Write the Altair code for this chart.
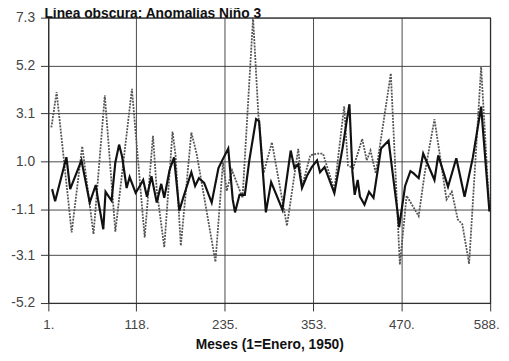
import altair as alt
import pandas as pd

# Serie oscura (Anomalías Niño 3)
nino3_mes = [6, 10, 25, 30, 45, 56, 64, 67, 74, 77, 85, 90, 95, 99, 105, 109, 117, 121, 127, 132,
             138, 145, 151, 155, 162, 168, 175, 181, 191, 196, 201, 208, 218, 227, 232, 240, 246, 249,
             255, 262, 268, 277, 281, 290, 297, 312, 323, 328, 333, 338, 345, 351, 358, 362, 368, 381,
             392, 397, 401, 405, 408, 412, 415, 421, 427, 433, 443, 453, 465, 467, 475, 482, 486, 493,
             499, 514, 519, 532, 543, 554, 565, 576, 587]
nino3_val = [-0.21, -0.74, 1.19, -0.21, 1.05, -0.80, -0.03, -0.67, -1.97, -0.33, -0.72, 0.96, 1.74,
             1.22, -0.16, 0.32, -0.37, -0.16, 0.19, -0.54, 0.36, -0.80, 0.02, -0.59, 0.62, 1.18, -1.15,
             -0.50, 0.53, -0.07, 0.27, 0.06, -0.80, 0.71, 1.05, 1.57, -0.67, -1.23, -0.46, -0.46, 1.05,
             2.86, 2.77, -1.23, 0.10, -1.11, 1.48, 0.71, 0.88, -0.16, 0.40, 0.75, 1.05, 0.53, 0.76,
             -0.39, 1.61, 2.69, 3.51, 0.53, -0.46, 0.19, -0.54, -0.89, -0.33, -0.59, 1.57, 1.91, -1.23,
             -1.88, -0.07, 0.58, 0.49, 0.27, 1.35, 0.19, 1.27, -0.11, 1.14, -0.54, 1.18, 3.40, -1.19]

# Serie punteada
otra_mes = [5, 12, 32, 46, 61, 76, 90, 112, 129, 140, 145, 155, 166, 170, 177, 191, 198, 223, 233,
            238, 245, 259, 273, 280, 287, 298, 318, 333, 338, 349, 358, 366, 381, 394, 399, 406, 418,
            424, 429, 436, 456, 468, 477, 493, 501, 514, 530, 537, 545, 551, 560, 576, 587]
otra_val = [2.49, 4.04, -2.11, 1.67, -2.18, 3.90, -2.07, 4.18, -2.33, 2.13, -0.24, -2.76, 2.31, 1.27,
            -2.69, 2.27, 1.34, -3.40, 0.96, -0.29, 0.62, -0.59, 7.30, 3.06, 0.49, 1.84, -1.82, 1.55,
            -0.10, 1.27, 1.34, 1.34, -0.24, 3.42, 0.83, 0.71, 1.99, 1.05, 1.48, 0.48, 4.86, -3.52,
            -0.50, -1.39, 0.48, 2.85, -0.67, -0.32, -1.54, -1.75, -3.48, 5.14, -1.18]

x_ticks = [1, 118, 235, 353, 470, 588]
y_ticks = [7.3, 5.2, 3.1, 1.0, -1.1, -3.1, -5.2]

titulo = "Línea obscura: Anomalías Niño 3"
eje_x = "Meses (1=Enero, 1950)"

df1 = pd.DataFrame({"mes": nino3_mes, "valor": nino3_val})
df2 = pd.DataFrame({"mes": otra_mes, "valor": otra_val})

font = "Liberation Sans"

x_enc = alt.X(
    "mes:Q",
    scale=alt.Scale(domain=[1, 588], nice=False, zero=False),
    axis=alt.Axis(
        values=x_ticks, title=eje_x, labelExpr="datum.value + '.'",
        grid=True, gridColor="#333", gridWidth=0.9, domain=False,
        tickSize=8, tickColor="#333", labelFont=font, labelFontSize=13.5,
        labelColor="#444", labelPadding=7, titleFont=font, titleFontSize=14,
        titleFontWeight="bold", titleColor="#111", titlePadding=7,
        labelFlush=False, labelOverlap=False,
        labelOffset={"condition": {"test": "datum.value == 588", "value": -4}, "value": 0},
    ),
)
y_enc = alt.Y(
    "valor:Q",
    scale=alt.Scale(domain=[-5.2, 7.3], nice=False, zero=False),
    axis=alt.Axis(
        values=y_ticks, title=None,
        labelExpr="datum.value < 0 ? '-' + format(-datum.value, '.1f') : format(datum.value, '.1f')",
        grid=True, gridColor="#333", gridWidth=0.9, domain=False,
        tickSize=8, tickColor="#333", labelFont=font, labelFontSize=14,
        labelColor="#444", labelPadding=6, labelFlush=False, labelOverlap=False,
    ),
)

punteada = alt.Chart(df2).mark_line(
    color="#555", strokeWidth=1.8, strokeDash=[2, 1.2]
).encode(x=x_enc, y=y_enc)

oscura = alt.Chart(df1).mark_line(
    color="#111", strokeWidth=2.2
).encode(x=x_enc, y=y_enc)

texto = alt.Chart(pd.DataFrame({"t": [titulo]})).mark_text(
    align="left", baseline="alphabetic", font=font, fontSize=14,
    fontWeight="bold", color="#111"
).encode(x=alt.value(-4), y=alt.value(0), text="t:N")

chart = alt.layer(punteada, oscura, texto).properties(
    width=449, height=290,
    autosize=alt.AutoSizeParams(type="none"),
    padding={"left": 41, "top": 7, "right": 11, "bottom": 52},
).configure_view(stroke="#222", strokeWidth=1.2)

chart.save("out.html", embed_options={"renderer": "svg", "actions": False})
